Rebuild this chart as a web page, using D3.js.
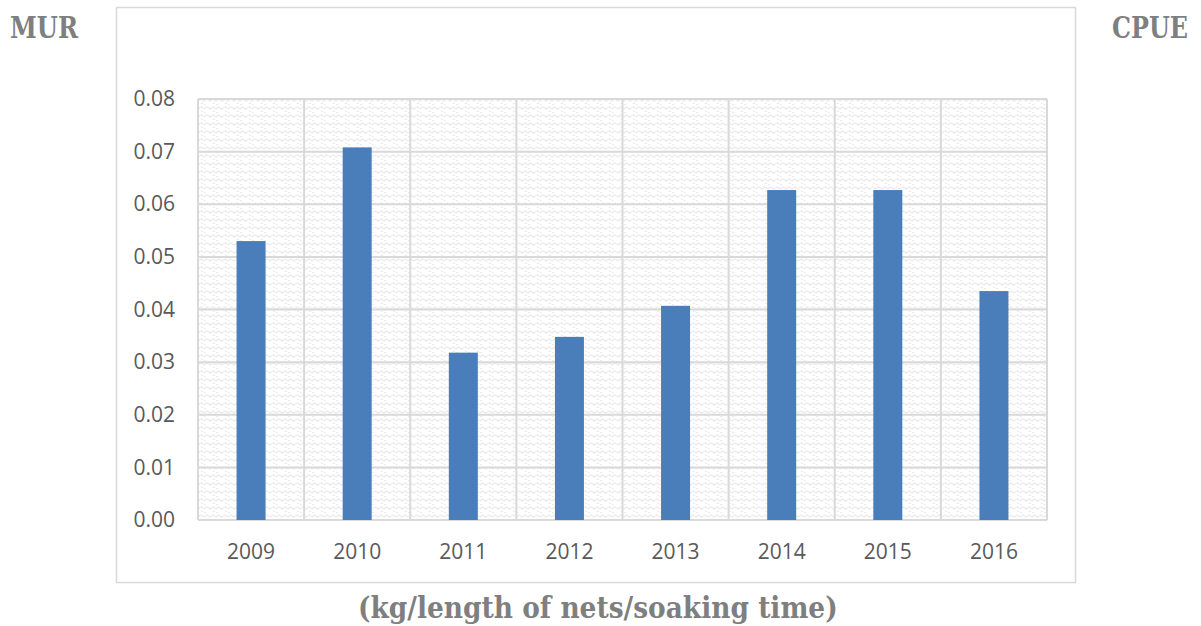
<!DOCTYPE html>
<html>
<head>
<meta charset="utf-8">
<script src="https://cdn.jsdelivr.net/npm/d3@7"></script>
<style>
  html, body { margin: 0; padding: 0; background: #fff; }
  svg { display: block; }
</style>
</head>
<body>
<svg id="chart" width="1201" height="626"></svg>
<script>
// Catch per unit effort by year
const years = ["2009", "2010", "2011", "2012", "2013", "2014", "2015", "2016"];
const cpue = [0.0530, 0.0708, 0.0318, 0.0348, 0.0407, 0.0627, 0.0627, 0.0435];
const yTicks = [0, 0.01, 0.02, 0.03, 0.04, 0.05, 0.06, 0.07, 0.08];
const leftTitle = "MUR";
const rightTitle = "CPUE";
const unitTitle = "(kg/length of nets/soaking time)";

const svg = d3.select("#chart");

const plot = { left: 198, top: 99, right: 1047, bottom: 520 };

const x = d3.scaleBand().domain(years).range([plot.left, plot.right]).paddingInner(0).paddingOuter(0);
const y = d3.scaleLinear().domain([0, 0.08]).range([plot.bottom, plot.top]);

// Light zig-zag texture used as plot background
const defs = svg.append("defs");
const pat = defs.append("pattern")
  .attr("id", "wave")
  .attr("patternUnits", "userSpaceOnUse")
  .attr("width", 12).attr("height", 8);
pat.append("rect").attr("width", 12).attr("height", 8).attr("fill", "#ffffff");
pat.append("path")
  .attr("d", "M0,5 L3,3 L6,5 L9,3 L12,5 M0,1 L3,-1 M9,7 L12,9")
  .attr("fill", "none")
  .attr("stroke", "#ebebeb")
  .attr("stroke-width", 1.3);

// Outer chart frame
svg.append("rect")
  .attr("x", 116.5).attr("y", 7.5)
  .attr("width", 959).attr("height", 575)
  .attr("fill", "#fff")
  .attr("stroke", "#d9d9d9").attr("stroke-width", 1.5);

// Plot background
svg.append("rect")
  .attr("x", plot.left).attr("y", plot.top)
  .attr("width", plot.right - plot.left).attr("height", plot.bottom - plot.top)
  .attr("fill", "url(#wave)");

// Horizontal gridlines
svg.append("g")
  .selectAll("line")
  .data(yTicks)
  .join("line")
  .attr("x1", plot.left).attr("x2", plot.right)
  .attr("y1", d => y(d)).attr("y2", d => y(d))
  .attr("stroke", "#d9d9d9").attr("stroke-width", 2);

// Vertical category separators
const seps = years.map(c => x(c)).concat([plot.right]);
svg.append("g")
  .selectAll("line")
  .data(seps)
  .join("line")
  .attr("x1", d => d).attr("x2", d => d)
  .attr("y1", plot.top).attr("y2", plot.bottom)
  .attr("stroke", "#d9d9d9").attr("stroke-width", 2);

// Bars
const barW = 29;
svg.append("g")
  .selectAll("rect")
  .data(years.map((c, i) => ({ c, v: cpue[i] })))
  .join("rect")
  .attr("x", d => x(d.c) + x.bandwidth() / 2 - barW / 2)
  .attr("y", d => y(d.v))
  .attr("width", barW)
  .attr("height", d => y(0) - y(d.v))
  .attr("fill", "#4a7ebb");

// Y axis
const yAxis = d3.axisLeft(y).tickValues(yTicks).tickFormat(d3.format(".2f")).tickSize(0).tickPadding(23);
const gy = svg.append("g").attr("transform", `translate(${plot.left},0)`).call(yAxis);
gy.select(".domain").remove();
gy.selectAll("text")
  .attr("font-family", "'Open Sans', sans-serif")
  .attr("font-size", 21)
  .attr("fill", "#595959");

// X axis
const xAxis = d3.axisBottom(x).tickSize(0).tickPadding(24);
const gx = svg.append("g").attr("transform", `translate(0,${plot.bottom})`).call(xAxis);
gx.select(".domain").remove();
gx.selectAll("text")
  .attr("font-family", "'Open Sans', sans-serif")
  .attr("font-size", 21)
  .attr("fill", "#595959");

// Titles: bold serif, narrowed horizontally to a target width
const titleFont = "'DejaVu Serif', serif";
function title(txt, xPos, yPos, len) {
  const t = svg.append("text")
    .attr("x", 0).attr("y", 0)
    .attr("font-family", titleFont).attr("font-weight", "bold")
    .attr("font-size", 30).attr("fill", "#7f7f7f")
    .text(txt);
  const natural = t.node().getComputedTextLength();
  t.attr("transform", `translate(${xPos},${yPos}) scale(${len / natural},1)`);
}
title(leftTitle, 10, 38, 68);
title(rightTitle, 1112, 38, 76);
title(unitTitle, 358, 618, 480);
</script>
</body>
</html>
